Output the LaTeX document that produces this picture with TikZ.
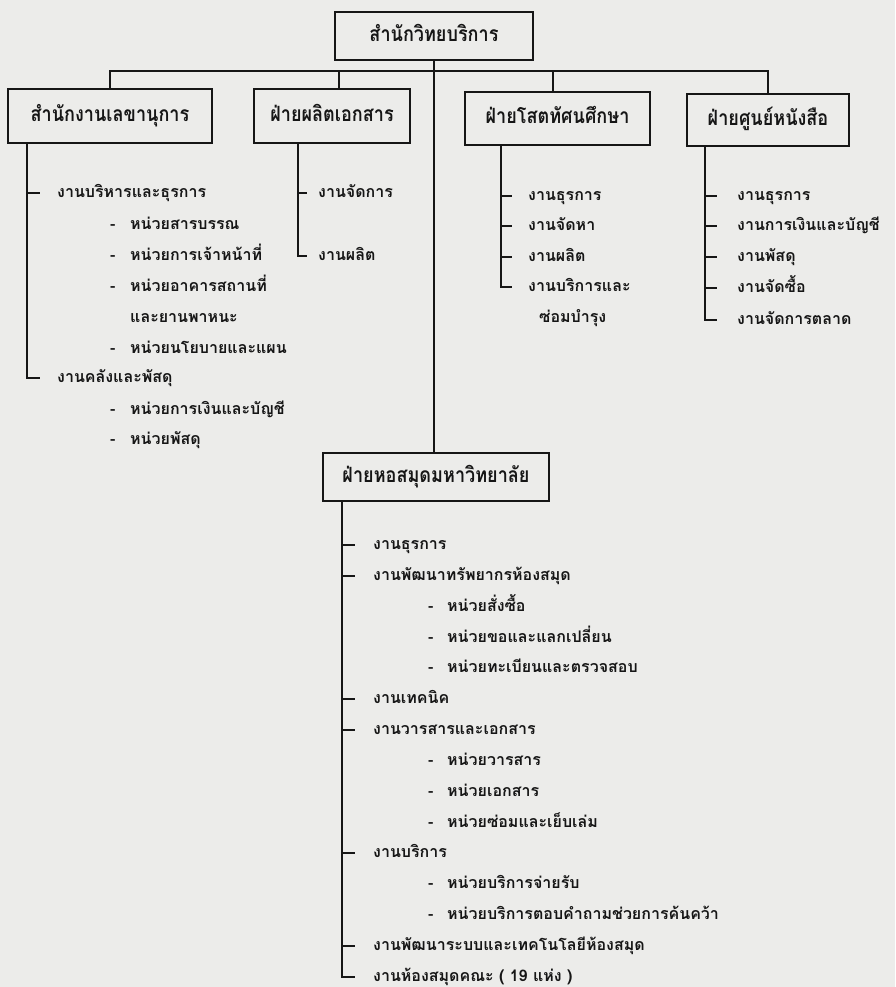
\documentclass[tikz,border=0pt]{standalone}
\usepackage{fontspec}
\setmainfont[Script=Thai]{Loma}
\newfontfamily\boxfont[Script=Thai,FakeStretch=0.86]{Loma}
\usetikzlibrary{calc}
\definecolor{paper}{RGB}{236,236,234}
\definecolor{ink}{RGB}{22,22,22}
\newcommand{\subA}[1]{\makebox[20pt][l]{-}#1}
\newcommand{\subB}[1]{\makebox[19pt][l]{-}#1}
\tikzset{
  unitbox/.style={draw=ink, line width=1.7pt, inner sep=0pt, text=ink,
    font=\boxfont\bfseries\fontsize{21}{23}\selectfont, text height=15pt, text depth=4pt},
  item/.style={anchor=west, inner sep=0pt, text=ink,
    font=\bfseries\fontsize{16}{18}\selectfont, text height=12pt, text depth=3pt},
  link/.style={draw=ink, line width=1.4pt},
}
\begin{document}
\begin{tikzpicture}[x=1pt,y=-1pt]
\fill[paper] (0,0) rectangle (895,987);
\useasboundingbox (0,0) rectangle (895,987);

% boxes
\node[unitbox, minimum width=198pt, minimum height=48pt] (top) at (434,36) {สำนักวิทยบริการ};
\node[unitbox, minimum width=204pt, minimum height=54pt] (b1) at (110,116) {สำนักงานเลขานุการ};
\node[unitbox, minimum width=156pt, minimum height=54pt] (b2) at (332,116) {ฝ่ายผลิตเอกสาร};
\node[unitbox, minimum width=185pt, minimum height=53pt] (b3) at (557.5,118.5) {ฝ่ายโสตทัศนศึกษา};
\node[unitbox, minimum width=162pt, minimum height=52pt] (b4) at (768,120) {ฝ่ายศูนย์หนังสือ};
\node[unitbox, minimum width=226pt, minimum height=48pt] (lib) at (436,477) {ฝ่ายหอสมุดมหาวิทยาลัย};

% top-level connectors
\coordinate (bar) at (0,71);
\coordinate (d2) at (339,0);
\coordinate (d3) at (553,0);
\draw[link] (b1.north) |- (bar -| b4.north) -- (b4.north);
\draw[link] (d2 |- bar) -- (d2 |- b2.north);
\draw[link] (d3 |- bar) -- (d3 |- b3.north);
\draw[link] (top.south) -- (top.south |- lib.north);

% ---------- column 1
\coordinate (v1) at (27,0);
\node[item] (a1) at (57,193) {งานบริหารและธุรการ};
\node[item] (a2) at (110,225) {\subA{หน่วยสารบรรณ}};
\node[item] (a3) at (110,256) {\subA{หน่วยการเจ้าหน้าที่}};
\node[item] (a4) at (110,287) {\subA{หน่วยอาคารสถานที่}};
\node[item] (a5) at (130,318) {และยานพาหนะ};
\node[item] (a6) at (110,349) {\subA{หน่วยนโยบายและแผน}};
\node[item] (a7) at (57,378) {งานคลังและพัสดุ};
\node[item] (a8) at (110,410) {\subA{หน่วยการเงินและบัญชี}};
\node[item] (a9) at (110,440) {\subA{หน่วยพัสดุ}};
\draw[link, shorten >=17pt] (b1.south -| v1) |- (a1.west);
\draw[link, shorten >=17pt] (b1.south -| v1) |- (a7.west);

% ---------- column 2
\coordinate (v2) at (298,0);
\node[item] (p1) at (318,193) {งานจัดการ};
\node[item] (p2) at (318,256) {งานผลิต};
\draw[link, shorten >=11pt] (b2.south -| v2) |- (p1.west);
\draw[link, shorten >=11pt] (b2.south -| v2) |- (p2.west);

% ---------- column 3
\coordinate (v3) at (501,0);
\node[item] (s1) at (528,196) {งานธุรการ};
\node[item] (s2) at (528,226) {งานจัดหา};
\node[item] (s3) at (528,257) {งานผลิต};
\node[item] (s4) at (528,287) {งานบริการและ};
\node[item] (s5) at (539,318) {ซ่อมบำรุง};
\foreach \n in {s1,s2,s3,s4}
  \draw[link, shorten >=16pt] (b3.south -| v3) |- (\n.west);

% ---------- column 4
\coordinate (v4) at (705,0);
\node[item] (k1) at (737,196) {งานธุรการ};
\node[item] (k2) at (737,226) {งานการเงินและบัญชี};
\node[item] (k3) at (737,257) {งานพัสดุ};
\node[item] (k4) at (737,288) {งานจัดซื้อ};
\node[item] (k5) at (737,320) {งานจัดการตลาด};
\foreach \n in {k1,k2,k3,k4,k5}
  \draw[link, shorten >=20pt] (b4.south -| v4) |- (\n.west);

% ---------- library
\coordinate (v5) at (342,0);
\node[item] (h0) at (373,545) {งานธุรการ};
\node[item] (h1) at (373,576) {งานพัฒนาทรัพยากรห้องสมุด};
\node[item] (h2) at (428,607) {\subB{หน่วยสั่งซื้อ}};
\node[item] (h3) at (428,638) {\subB{หน่วยขอและแลกเปลี่ยน}};
\node[item] (h4) at (428,668) {\subB{หน่วยทะเบียนและตรวจสอบ}};
\node[item] (h5) at (373,699) {งานเทคนิค};
\node[item] (h6) at (373,730) {งานวารสารและเอกสาร};
\node[item] (h7) at (428,761) {\subB{หน่วยวารสาร}};
\node[item] (h8) at (428,792) {\subB{หน่วยเอกสาร}};
\node[item] (h9) at (428,823) {\subB{หน่วยซ่อมและเย็บเล่ม}};
\node[item] (h10) at (373,853) {งานบริการ};
\node[item] (h11) at (428,884) {\subB{หน่วยบริการจ่ายรับ}};
\node[item] (h12) at (428,915) {\subB{หน่วยบริการตอบคำถามช่วยการค้นคว้า}};
\node[item] (h13) at (373,946) {งานพัฒนาระบบและเทคโนโลยีห้องสมุด};
\node[item] (h14) at (373,977) {งานห้องสมุดคณะ ( 19 แห่ง )};
\foreach \n in {h0,h1,h5,h6,h10,h13,h14}
  \draw[link, shorten >=18pt] (lib.south -| v5) |- (\n.west);
\end{tikzpicture}
\end{document}
